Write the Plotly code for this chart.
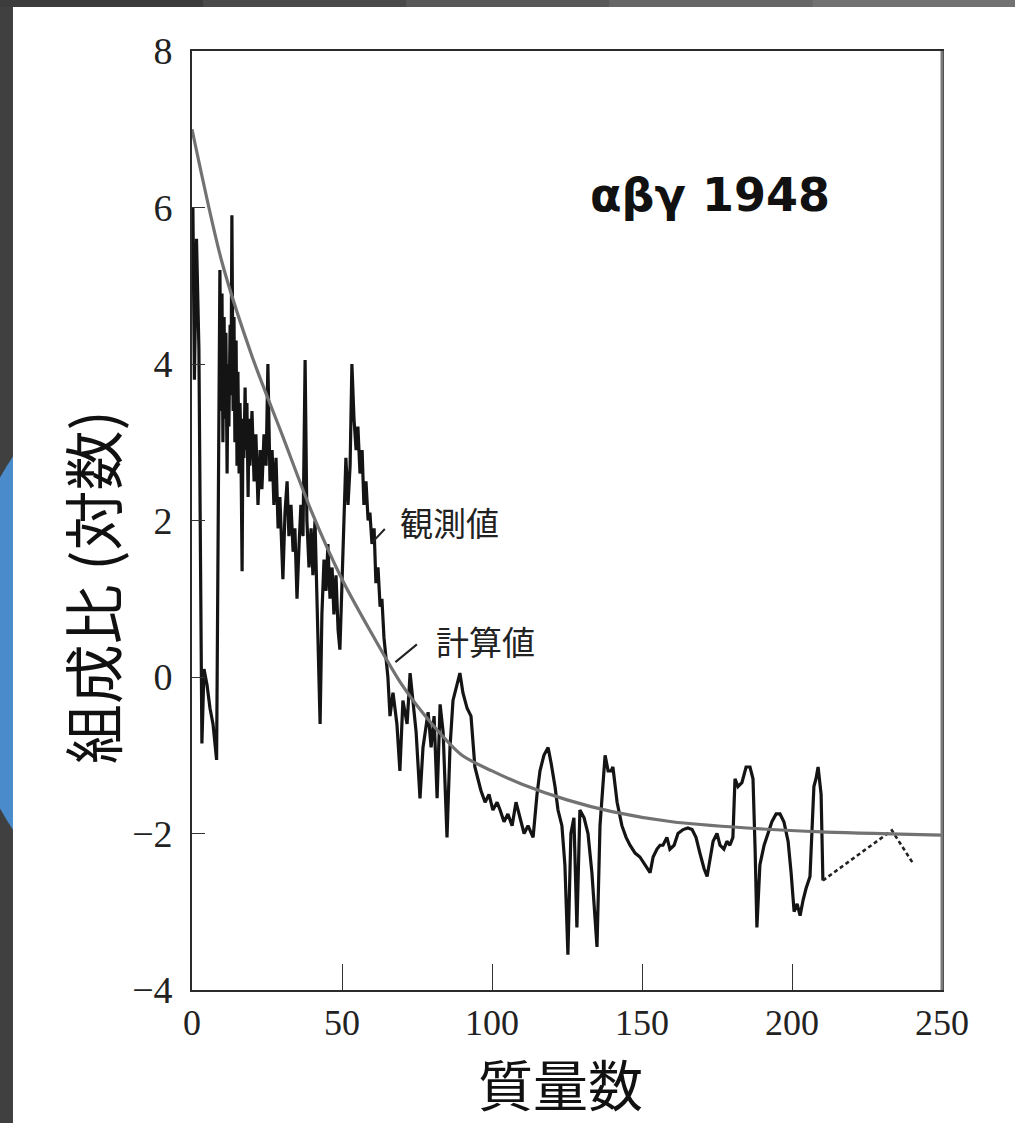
import plotly.graph_objects as go

# Observed abundances (log scale) versus mass number
obs_mass = [0.3, 0.8, 1.5, 2.3, 3.3, 4.0, 5.0, 6.0, 7.0, 8.2,
            9.3, 9.7, 10.0, 10.3, 10.7, 11.0, 11.3, 11.7, 12.0, 12.3,
            12.7, 13.0, 13.3, 13.7, 14.0, 14.3, 14.7, 15.0, 15.3, 15.7,
            16.0, 16.3, 16.7, 17.0, 17.3, 17.7, 18.0, 18.3, 18.7, 19.0,
            19.3, 20.0, 20.7, 21.3, 22.0, 22.7, 23.3, 24.0, 24.7, 25.3,
            26.0, 26.7, 27.3, 28.0, 28.7, 29.3, 30.3, 31.0, 31.7, 32.3,
            33.0, 33.7, 34.3, 35.0, 35.7, 36.3, 37.0, 37.7, 38.3, 39.0,
            39.7, 40.3, 41.0, 41.7, 42.7, 43.3, 44.0, 44.7, 45.3, 46.0,
            46.7, 47.3, 48.0, 48.7, 49.3, 50.0, 50.7, 51.3, 52.0, 52.7,
            53.3, 54.0, 54.7, 55.3, 56.0, 56.7, 57.3, 58.0, 58.7, 59.3,
            60.0, 60.7, 61.3, 62.0, 62.7, 63.3, 64.0, 64.7, 65.3, 66.0,
            67.0, 68.3, 69.3, 70.3, 71.7, 72.7, 73.7, 74.7, 76.0, 77.0,
            78.7, 79.7, 80.7, 81.7, 82.7, 83.7, 85.0, 86.0, 87.0, 88.3,
            89.3, 90.3, 91.7, 93.0, 94.3, 95.3, 96.3, 97.7, 99.0, 100.3,
            101.7, 102.7, 104.0, 105.3, 106.7, 108.0, 109.3, 110.7, 112.0, 113.7,
            115.0, 116.0, 117.3, 118.7, 119.7, 121.0, 122.0, 123.3, 124.3, 125.3,
            126.3, 127.3, 128.3, 129.3, 130.7, 132.0, 133.3, 135.0, 136.0, 137.0,
            137.7, 138.7, 139.7, 140.3, 141.7, 143.3, 144.7, 146.0, 147.7, 149.3,
            151.0, 152.7, 153.7, 155.0, 156.0, 157.0, 158.3, 159.3, 160.7, 162.0,
            163.7, 165.3, 166.7, 168.0, 169.3, 170.7, 171.7, 172.7, 173.7, 175.0,
            176.0, 177.3, 178.3, 179.3, 180.3, 181.0, 182.0, 183.3, 184.7, 186.0,
            187.0, 187.7, 188.3, 189.3, 190.7, 192.0, 193.3, 194.7, 196.0, 197.3,
            198.7, 199.7, 200.7, 201.7, 202.7, 203.7, 204.7, 206.0, 206.7, 207.3,
            208.0, 208.7, 209.7, 210.3]
obs_value = [6.0, 3.8, 5.6, 4.2, -0.85, 0.1, -0.1, -0.4, -0.6, -1.06,
             5.2, 3.4, 4.9, 3.0, 4.6, 3.3, 4.4, 2.6, 4.0, 3.2,
             4.5, 3.6, 5.9, 3.4, 4.6, 3.0, 4.3, 2.7, 3.9, 2.6,
             3.5, 3.0, 1.35, 3.3, 2.8, 3.7, 2.9, 3.5, 2.3, 3.3,
             2.7, 3.4, 2.5, 3.1, 2.2, 2.9, 2.4, 3.1, 2.7, 4.0,
             2.5, 2.9, 2.2, 2.8, 1.9, 2.3, 1.25, 2.1, 2.5, 1.8,
             2.2, 1.6, 1.9, 1.0, 1.7, 2.2, 1.8, 4.05, 2.0, 1.4,
             1.9, 1.3, 2.0, 1.0, -0.6, 0.8, 1.5, 1.1, 1.7, 1.0,
             1.4, 0.8, 1.3, 0.6, 0.35, 1.2, 2.0, 2.8, 2.2, 2.7,
             4.0, 3.3, 2.9, 3.2, 2.6, 2.9, 2.2, 2.5, 2.0, 2.1,
             1.7, 1.9, 1.2, 1.4, 0.9, 1.0, 0.5, 0.2, 0.0, -0.5,
             -0.2, -0.6, -1.2, -0.3, -0.6, 0.05, -0.3, -0.7, -1.55, -0.9,
             -0.45, -0.9, -0.5, -1.55, -0.35, -0.7, -2.05, -0.9, -0.3, -0.1,
             0.05, -0.2, -0.4, -0.5, -1.15, -1.3, -1.45, -1.6, -1.5, -1.7,
             -1.6, -1.7, -1.85, -1.75, -1.9, -1.6, -1.8, -2.0, -1.9, -2.05,
             -1.5, -1.2, -1.0, -0.9, -1.1, -1.4, -1.7, -1.9, -2.4, -3.55,
             -2.0, -1.8, -3.2, -1.7, -1.8, -2.0, -2.5, -3.45, -1.9, -1.4,
             -1.0, -1.2, -1.2, -1.15, -1.6, -1.9, -2.05, -2.15, -2.25, -2.3,
             -2.4, -2.5, -2.3, -2.2, -2.15, -2.15, -2.05, -2.2, -2.15, -2.0,
             -1.95, -1.93, -1.95, -2.05, -2.25, -2.45, -2.55, -2.3, -2.1, -2.0,
             -2.15, -2.2, -2.1, -2.15, -2.05, -1.3, -1.4, -1.35, -1.15, -1.15,
             -1.3, -2.2, -3.2, -2.4, -2.15, -2.0, -1.85, -1.75, -1.75, -1.85,
             -2.1, -2.5, -3.0, -2.9, -3.05, -2.85, -2.7, -2.55, -1.8, -1.4,
             -1.3, -1.15, -1.5, -2.6]

# Heavy end of the observed data, joined by a dashed segment
tail_mass = [210.3, 233.3, 240.3]
tail_value = [-2.6, -1.96, -2.38]

# Calculated abundance curve
calc_mass = [0, 10, 20, 30, 40, 50, 60, 70, 80, 90, 100, 110, 125, 140, 160, 185, 210, 250]
calc_value = [7.0, 5.3, 4.1, 3.1, 2.1, 1.25, 0.55, -0.1, -0.6, -1.0, -1.2, -1.37,
              -1.57, -1.72, -1.85, -1.93, -1.98, -2.02]

x_ticks = [0, 50, 100, 150, 200, 250]
y_ticks = [-4, -2, 0, 2, 4, 6, 8]

fig = go.Figure()

fig.add_trace(go.Scatter(x=obs_mass, y=obs_value, mode="lines",
                         line=dict(color="#141414", width=3.2),
                         showlegend=False, hoverinfo="skip"))
fig.add_trace(go.Scatter(x=tail_mass, y=tail_value, mode="lines",
                         line=dict(color="#222222", width=2.6, dash="4px,3px"),
                         showlegend=False, hoverinfo="skip"))
fig.add_trace(go.Scatter(x=calc_mass, y=calc_value, mode="lines",
                         line=dict(color="#727272", width=3.2, shape="spline", smoothing=0.8),
                         showlegend=False, hoverinfo="skip"))

serif = "Liberation Serif"
cjk = "Noto Sans CJK JP"

axis_common = dict(showline=True, mirror=True, linecolor="#2b2b2b", linewidth=1.6,
                   ticks="inside", tickcolor="#333333", tickwidth=1.3,
                   showgrid=False, zeroline=False)

fig.update_xaxes(range=[0, 250], tickvals=x_ticks, ticklen=26,
                 ticklabelstandoff=0,
                 tickfont=dict(family=serif, size=36, color="#222222"), **axis_common)
fig.update_yaxes(range=[-4, 8], tickvals=y_ticks, ticklen=13,
                 ticklabelstandoff=10,
                 tickfont=dict(family=serif, size=38, color="#222222"), **axis_common)

# Slide backdrop: dark frame, a blue disc peeking out on the left, white page
shapes = [
    dict(type="circle", xref="paper", yref="paper", x0=-0.3133, x1=0.5933,
         y0=0.0075, y1=0.7315, fillcolor="#4a8bcb", line=dict(width=0), layer="below"),
    dict(type="rect", xref="paper", yref="paper", x0=-0.2387, x1=1.2,
         y0=-0.3, y1=1.0469, fillcolor="white", line=dict(width=0), layer="below"),
]
strip_colors = ["#3c3c3c", "#4a4a4a", "#585858", "#666666", "#727272"]
for i, c in enumerate(strip_colors):
    shapes.append(dict(type="rect", xref="paper", yref="paper",
                       x0=-0.256 + i * 0.2707, x1=-0.256 + (i + 1) * 0.2707,
                       y0=1.0469, y1=1.06, fillcolor=c, line=dict(width=0), layer="below"))
# the right-hand frame edge prints as a heavier grey rule
shapes.append(dict(type="line", xref="paper", yref="paper", x0=1, x1=1, y0=0, y1=1,
                   line=dict(color="#7a7a7a", width=3)))

annotations = [
    dict(text="質量数", xref="paper", yref="paper", x=0.4907, y=-0.0980,
         xanchor="center", yanchor="middle", showarrow=False,
         font=dict(family=cjk, size=55, color="#111111")),
    dict(text="組成比 (対数)", xref="paper", yref="paper", x=-0.136, y=0.4290,
         xanchor="center", yanchor="middle", textangle=-90, showarrow=False,
         font=dict(family=cjk, size=60, color="#111111")),
    dict(text="<b>αβγ 1948</b>", xref="paper", yref="paper", x=0.6907, y=0.8466,
         xanchor="center", yanchor="middle", showarrow=False,
         font=dict(family="DejaVu Sans", size=46, color="#111111")),
    dict(text="観測値", x=85.8, y=1.98, xanchor="center", yanchor="middle",
         showarrow=False, font=dict(family=cjk, size=33, color="#222222")),
    dict(text="計算値", x=97.8, y=0.46, xanchor="center", yanchor="middle",
         showarrow=False, font=dict(family=cjk, size=33, color="#222222")),
    # leader lines from the labels to their curves
    dict(text=" ", x=60.1, y=1.72, ax=14, ay=-15, showarrow=True, arrowhead=0,
         arrowwidth=2, arrowcolor="#222222", font=dict(size=1)),
    dict(text=" ", x=67.8, y=0.19, ax=23, ay=-19, showarrow=True, arrowhead=0,
         arrowwidth=2, arrowcolor="#222222", font=dict(size=1)),
]

fig.update_layout(
    width=1015, height=1123,
    margin=dict(l=192, r=73, t=51, b=133),
    paper_bgcolor="#404040",
    plot_bgcolor="rgba(0,0,0,0)",
    shapes=shapes,
    annotations=annotations,
)

fig.write_html("out.html")
